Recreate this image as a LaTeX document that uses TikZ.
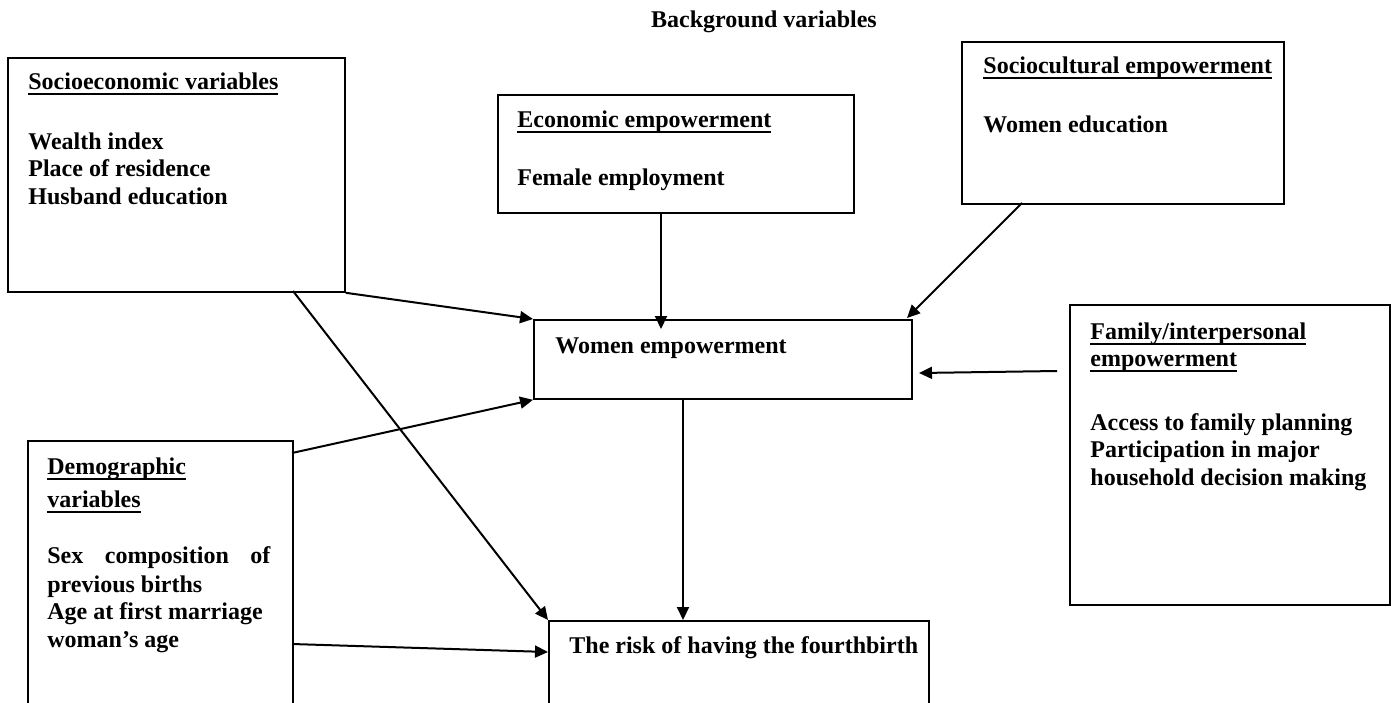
\documentclass[tikz,border=0pt]{standalone}
\usepackage{fontspec}
\setmainfont{Liberation Serif}
\usetikzlibrary{arrows.meta,calc}
\newcommand\ulx[1]{\setbox0\hbox{#1}\rlap{\vrule height -1.9pt depth 3.1pt width \wd0}\box0}
\begin{document}
\begin{tikzpicture}[x=0.5pt,y=-0.5pt,
  box/.style={draw,line width=0.9pt,anchor=north west,inner sep=0pt},
  txt/.style={anchor=base west,inner sep=0pt,font=\fontsize{12pt}{13.8pt}\selectfont\bfseries},
  arr/.style={line width=1pt,-{Triangle[length=6.5pt,width=6pt]}}]
\useasboundingbox (0,0) rectangle (1391,702);
\clip (0,0) rectangle (1391,702);
% boxes
\node[box,minimum width=168.5pt,minimum height=117pt] (se) at (7,57) {};
\node[box,minimum width=178pt,minimum height=59pt] (eco) at (497,94) {};
\node[box,minimum width=161pt,minimum height=81pt] (soc) at (961,41) {};
\node[box,minimum width=189pt,minimum height=39.5pt] (we) at (533,319) {};
\node[box,minimum width=160pt,minimum height=150pt] (fam) at (1069,304) {};
\node[box,minimum width=132.5pt,minimum height=150pt] (dem) at (27,440) {};
\node[box,minimum width=190pt,minimum height=60pt] (risk) at (548,620) {};
% texts
\node[txt,anchor=base] (title) at (764,27) {Background variables};
\node[txt] (setitle) at (28,89) {\ulx{Socioeconomic variables}};
\node[txt] (se1) at (28,149) {Wealth index};
\node[txt] (se2t) at (28,176) {Place of residence};
\node[txt] (se3) at (28,204) {Husband education};
\node[txt] (ecotitle) at (517,127) {\ulx{Economic empowerment}};
\node[txt] (ecobody) at (517,185) {Female employment};
\node[txt] (soctitle) at (983,73) {\ulx{Sociocultural empowerment}};
\node[txt] (socbody) at (983,132) {Women education};
\node[txt] (webody) at (555,353) {Women empowerment};
\node[txt] (famtitle1) at (1090,339) {\ulx{Family/interpersonal}};
\node[txt] (famtitle2) at (1090,366) {\ulx{empowerment}};
\node[txt] (fam1) at (1090,430) {Access to family planning};
\node[txt] (fam2) at (1090,457) {Participation in major};
\node[txt] (fam3) at (1090,485) {household decision making};
\node[txt] (demtitle1) at (47,474) {\ulx{Demographic}};
\node[txt] (demtitle2) at (47,507) {\ulx{variables}};
\node[txt] (dem1t) at (47,563) {\hbox to 111.5pt{Sex\hfill composition\hfill of}};
\node[txt] (dem2t) at (47,592) {previous births};
\node[txt] (dem3t) at (47,619) {Age at first marriage};
\node[txt] (dem4t) at (47,647) {woman’s age};
\node[txt] (riskbody) at (569,653) {The risk of having the fourthbirth};
% connector end points
\coordinate (se2) at (293,291);
\coordinate (ecoS) at (661,212);
\coordinate (weN) at (661,329);
\coordinate (socS) at (1022,203);
\coordinate (weNE) at (907,318);
\coordinate (famW) at (1057,371);
\coordinate (weE) at (919,373);
\coordinate (dem1) at (292,453);
\coordinate (dem2) at (292,644);
\coordinate (riskW) at (548,652);
\coordinate (weS) at (683,398);
\coordinate (riskN) at (683,620);
% connectors
\draw[arr] (se.south east) -- (we.north west);
\draw[arr] (se2) -- (risk.north west);
\draw[arr] (ecoS) -- (weN);
\draw[arr] (socS) -- (weNE);
\draw[arr] (famW) -- (weE);
\draw[arr] (dem1) -- (we.south west);
\draw[arr] (dem2) -- (riskW);
\draw[arr] (weS) -- (riskN);
\end{tikzpicture}
\end{document}
